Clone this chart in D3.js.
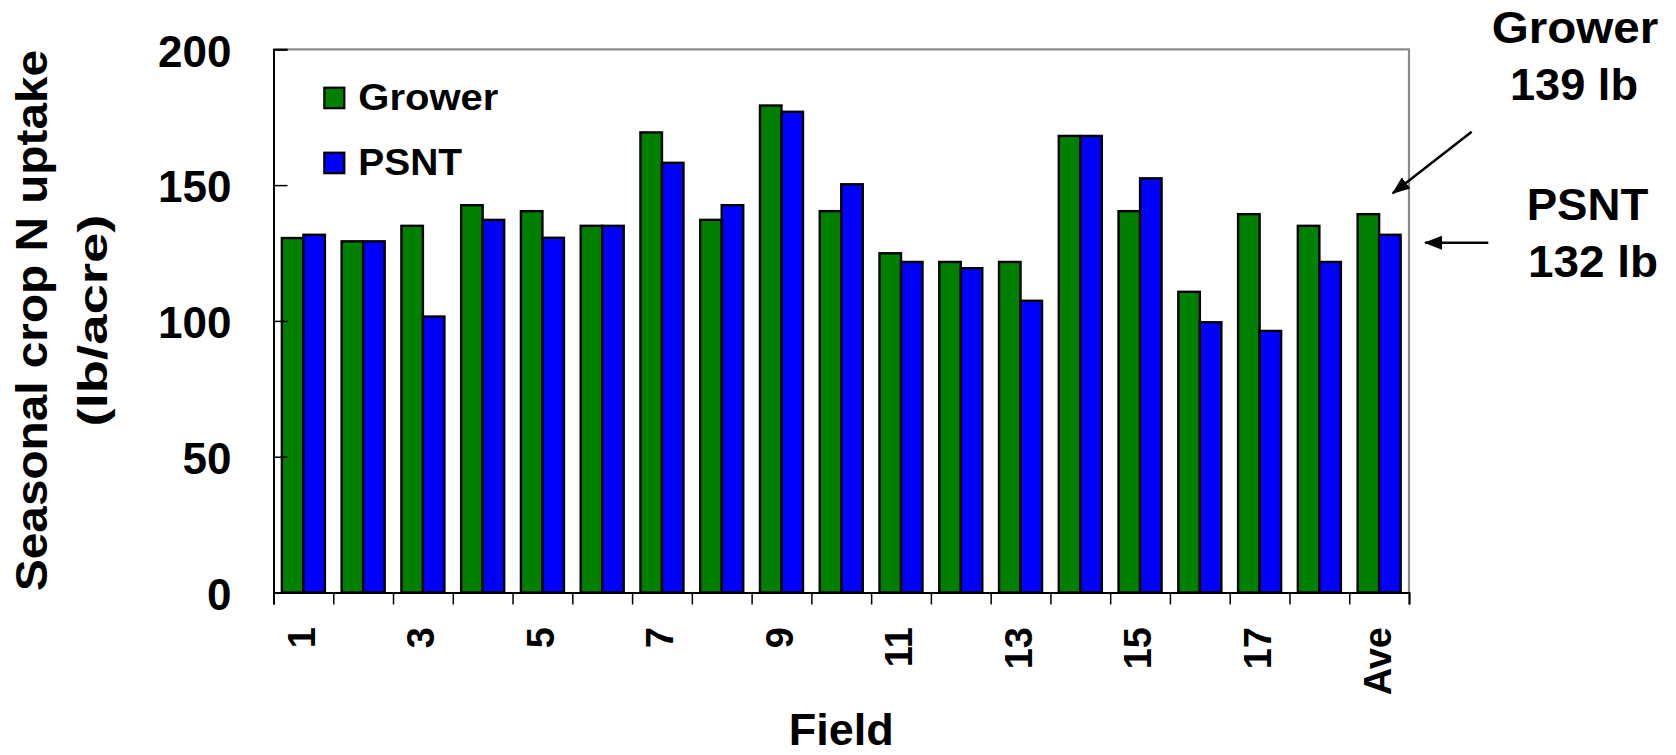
<!DOCTYPE html>
<html>
<head>
<meta charset="utf-8">
<script src="https://cdn.jsdelivr.net/npm/d3@7"></script>
<style>
  html, body { margin: 0; padding: 0; background: #fff; }
  svg { display: block; }
  text { font-family: "Liberation Sans", Arial, Helvetica, sans-serif; font-weight: bold; fill: #000; }
</style>
</head>
<body>
<svg id="chart" width="1676" height="755"></svg>
<script>
// ---- data ----
const fields = ["1","2","3","4","5","6","7","8","9","10","11","12","13","14","15","16","17","18","Ave"];
const tickLabels = ["1","","3","","5","","7","","9","","11","","13","","15","","17","","Ave"];
const grower = [130.5, 129.3, 135.0, 142.6, 140.4, 135.0, 169.4, 137.2, 179.3, 140.4, 124.9, 121.7, 121.7, 168.1, 140.4, 110.7, 139.3, 135.0, 139.3];
const psnt   = [131.7, 129.3, 101.6, 137.2, 130.6, 135.0, 158.2, 142.6, 177.0, 150.3, 121.7, 119.4, 107.4, 168.1, 152.5, 99.5, 96.3, 121.7, 131.7];
const seriesNames = ["Grower", "PSNT"];
const seriesColors = ["#008000", "#0000ff"];
const yTicks = [0, 50, 100, 150, 200];

// ---- layout ----
const L = 273.5, R = 1409, T = 49.3, B = 592.5;
const svg = d3.select("#chart");

const x0 = d3.scaleBand().domain(fields).range([L, R]).paddingInner(0.28).paddingOuter(0.14);
const x1 = d3.scaleBand().domain(seriesNames).range([0, x0.bandwidth()]).padding(0);
const y = d3.scaleLinear().domain([0, 200]).range([B, T]);
const xb = d3.scaleLinear().domain([0, fields.length]).range([L, R]);

const rows = fields.map((f, i) => ({ field: f, values: [grower[i], psnt[i]] }));

// frame (top & right, gray)
svg.append("path")
  .attr("d", `M${L},${T}H${R}V${B}`)
  .attr("fill", "none").attr("stroke", "#8c8c8c").attr("stroke-width", 2.2);

// bars
const g = svg.append("g");
g.selectAll("g.grp").data(rows).join("g")
  .attr("class", "grp")
  .attr("transform", d => `translate(${x0(d.field)},0)`)
  .selectAll("rect").data(d => d.values.map((v, k) => ({ k, v })))
  .join("rect")
  .attr("x", d => x1(seriesNames[d.k]))
  .attr("y", d => y(d.v))
  .attr("width", x1.bandwidth())
  .attr("height", d => y(0) - y(d.v))
  .attr("fill", d => seriesColors[d.k])
  .attr("stroke", "#000").attr("stroke-width", 2.4);

// y axis
const yAxis = svg.append("g").attr("transform", `translate(${L},0)`)
  .call(d3.axisLeft(y).tickValues(yTicks).tickSize(-14).tickPadding(42).tickFormat(d3.format("d")));
yAxis.select(".domain").attr("stroke", "#000").attr("stroke-width", 2);
yAxis.selectAll(".tick line").attr("stroke", "#000").attr("stroke-width", 1.5);
yAxis.selectAll(".tick text").attr("font-size", 44).attr("dy", "0.38em")
  .style("font-family", '"Liberation Sans", Arial, sans-serif').style("font-weight", "bold");

// x axis: boundary ticks
const xTickAxis = svg.append("g").attr("transform", `translate(0,${B})`)
  .call(d3.axisBottom(xb).tickValues(d3.range(fields.length + 1)).tickSize(12).tickFormat(""));
xTickAxis.select(".domain").attr("stroke", "#000").attr("stroke-width", 2);
xTickAxis.selectAll(".tick line").attr("stroke", "#000").attr("stroke-width", 1.5);

// x axis: labels at band centers
const xLab = svg.append("g").attr("transform", `translate(0,${B})`)
  .call(d3.axisBottom(x0).tickSize(0).tickFormat((d, i) => tickLabels[i]));
xLab.select(".domain").remove();
xLab.selectAll(".tick text")
  .attr("transform", "rotate(-90)")
  .attr("text-anchor", "end")
  .attr("x", -34.5).attr("y", 0).attr("dy", "0.3em")
  .attr("font-size", 38)
  .style("font-family", '"Liberation Sans", Arial, sans-serif').style("font-weight", "bold");

// axis titles
svg.append("text").attr("transform", "translate(46.5,320.5) rotate(-90)")
  .attr("text-anchor", "middle").attr("font-size", 44)
  .attr("textLength", 541).attr("lengthAdjust", "spacingAndGlyphs")
  .text("Seasonal crop N uptake");
svg.append("text").attr("transform", "translate(106.7,320.5) rotate(-90)")
  .attr("text-anchor", "middle").attr("font-size", 40)
  .attr("textLength", 212).attr("lengthAdjust", "spacingAndGlyphs")
  .text("(lb/acre)");
svg.append("text").attr("x", (L + R) / 2).attr("y", 745)
  .attr("text-anchor", "middle").attr("font-size", 45)
  .text("Field");

// legend
const legend = svg.append("g");
const legY = [87.7, 152.7];
const legLen = [140, 103.7];
seriesNames.forEach((s, i) => {
  legend.append("rect").attr("x", 324.3).attr("y", legY[i]).attr("width", 20).attr("height", 20.5)
    .attr("fill", seriesColors[i]).attr("stroke", "#000").attr("stroke-width", 2.2);
  legend.append("text").attr("x", 358.3).attr("y", legY[i] + 22.3)
    .attr("font-size", 36).attr("textLength", legLen[i]).attr("lengthAdjust", "spacingAndGlyphs")
    .text(s);
});

// annotations
const n = fields.length - 1;
const fmt = d3.format(".0f");
const ann = [
  { t: seriesNames[0], x: 1575, y: 43.3, len: 166.7 },
  { t: fmt(grower[n]) + " lb", x: 1574, y: 100, len: 128 },
  { t: seriesNames[1], x: 1587.5, y: 220, len: 121.7 },
  { t: fmt(psnt[n]) + " lb", x: 1593, y: 276.7, len: 130 }
];
svg.selectAll("text.ann").data(ann).join("text").attr("class", "ann")
  .attr("x", d => d.x).attr("y", d => d.y)
  .attr("text-anchor", "middle").attr("font-size", 44)
  .attr("textLength", d => d.len).attr("lengthAdjust", "spacingAndGlyphs")
  .text(d => d.t);

// arrows
const defs = svg.append("defs");
defs.append("marker").attr("id", "ah")
  .attr("markerUnits", "userSpaceOnUse")
  .attr("viewBox", "0 0 18 14").attr("refX", 17).attr("refY", 7)
  .attr("markerWidth", 18).attr("markerHeight", 14)
  .attr("orient", "auto")
  .append("path").attr("d", "M0,0L18,7L0,14Z").attr("fill", "#000");
const arrows = [
  { x1: 1471.7, y1: 131.7, x2: 1392.7, y2: 193.3 },
  { x1: 1488.3, y1: 242.7, x2: 1425, y2: 242.7 }
];
svg.selectAll("line.arr").data(arrows).join("line").attr("class", "arr")
  .attr("x1", d => d.x1).attr("y1", d => d.y1).attr("x2", d => d.x2).attr("y2", d => d.y2)
  .attr("stroke", "#000").attr("stroke-width", 2.5).attr("marker-end", "url(#ah)");
</script>
</body>
</html>
